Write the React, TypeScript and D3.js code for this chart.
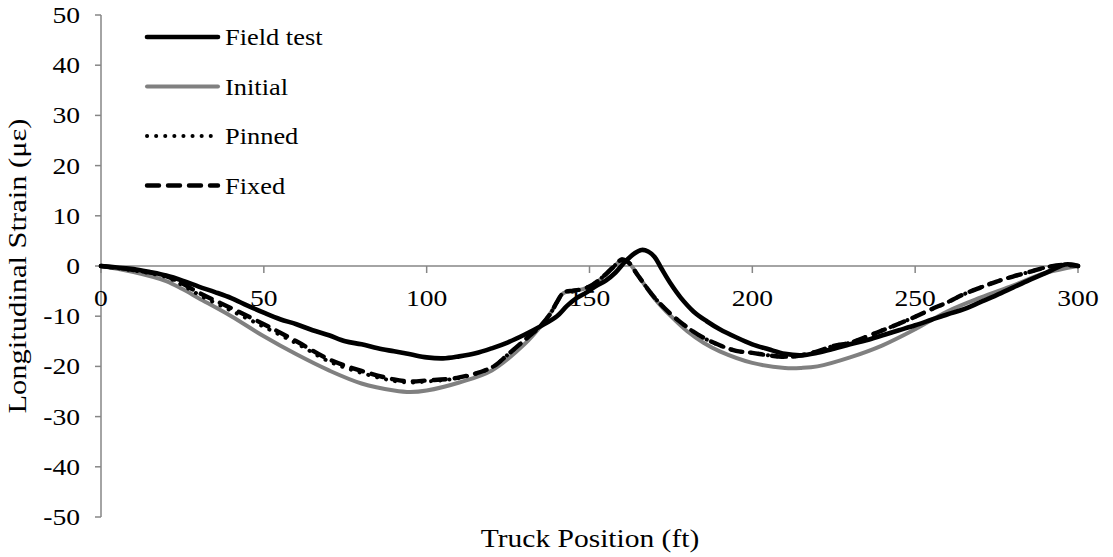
import React from "react";
import * as d3 from "d3";

// Truck position (ft) and longitudinal strain (µε) for each series
const fieldX = [0, 5, 10, 15, 20, 25, 30, 35, 40, 45, 50, 55, 60, 65, 70, 75, 80, 85, 90, 95, 100, 105, 110, 115, 120, 125, 130, 135, 140, 143, 146, 149, 152, 155, 158, 161, 164, 166, 168, 170, 172, 175, 178, 182, 186, 190, 195, 200, 205, 210, 215, 220, 225, 230, 235, 240, 245, 250, 255, 260, 265, 270, 275, 280, 285, 290, 293, 296, 298, 300];
const fieldY = [0, -0.3, -0.6, -1.2, -1.9, -2.9, -4.1, -5.2, -6.4, -7.9, -9.3, -10.6, -11.6, -12.8, -13.8, -15.0, -15.6, -16.4, -17.0, -17.6, -18.2, -18.4, -18.0, -17.4, -16.4, -15.2, -13.7, -12.0, -10.0, -8.0, -6.4, -5.3, -4.0, -2.9, -1.3, 0.9, 2.6, 3.2, 2.9, 1.8, -0.4, -3.6, -6.3, -9.1, -11.0, -12.6, -14.2, -15.6, -16.6, -17.5, -17.8, -17.3, -16.5, -15.6, -14.8, -13.8, -12.8, -11.8, -10.7, -9.6, -8.6, -7.2, -5.8, -4.3, -2.8, -1.4, -0.5, 0.3, 0.3, 0.0];

const initialX = [0, 10, 20, 25, 30, 40, 50, 60, 70, 80, 90, 95, 100, 110, 120, 130, 135, 138, 140, 142, 145, 148, 151, 154, 157, 160, 162, 165, 170, 175, 180, 185, 190, 200, 210, 215, 220, 230, 240, 250, 260, 270, 280, 290, 300];
const initialY = [0, -1.2, -3.0, -4.6, -6.4, -10.0, -14.0, -17.6, -20.8, -23.4, -24.8, -25.1, -24.8, -23.2, -20.8, -15.6, -12.0, -9.4, -7.2, -5.4, -4.9, -4.6, -3.8, -2.3, -0.5, 1.2, 0.7, -2.0, -6.5, -10.0, -13.0, -15.3, -17.0, -19.3, -20.3, -20.3, -20.0, -18.2, -15.8, -12.6, -9.0, -6.3, -3.9, -1.4, 0];

const pinnedX = [0, 10, 20, 25, 30, 40, 50, 60, 70, 80, 90, 95, 100, 110, 120, 125, 130, 135, 138, 140, 142, 145, 148, 151, 154, 157, 160, 162, 165, 170, 175, 180, 185, 190, 195, 200, 205, 210, 215, 220, 225, 230, 235, 240, 245, 250, 255, 260, 265, 270, 275, 280, 285, 290, 295, 300];
const pinnedY = [0, -0.9, -2.2, -3.8, -5.7, -8.9, -12.1, -15.4, -19.0, -21.3, -22.9, -23.2, -23.0, -22.3, -20.2, -17.6, -14.8, -11.9, -9.5, -7.2, -5.3, -4.9, -4.6, -3.7, -2.2, -0.4, 1.3, 0.7, -2.0, -6.3, -9.6, -12.2, -14.3, -15.8, -16.9, -17.3, -17.8, -18.1, -17.8, -17.0, -15.9, -15.3, -14.1, -12.8, -11.5, -10.1, -8.6, -7.2, -5.6, -4.3, -3.1, -2.1, -1.2, -0.3, 0.2, 0];

const fixedX = [0, 10, 20, 25, 30, 40, 50, 60, 70, 80, 90, 95, 100, 110, 120, 125, 130, 135, 138, 140, 142, 145, 148, 151, 154, 157, 160, 162, 165, 170, 175, 180, 185, 190, 195, 200, 205, 210, 215, 220, 225, 230, 235, 240, 245, 250, 255, 260, 265, 270, 275, 280, 285, 290, 295, 300];
const fixedY = [0, -0.8, -2.0, -3.5, -5.3, -8.4, -11.6, -15.0, -18.6, -20.9, -22.6, -23.0, -22.8, -22.2, -20.2, -17.6, -14.8, -11.9, -9.5, -7.2, -5.3, -4.9, -4.6, -3.7, -2.2, -0.4, 1.3, 0.7, -2.0, -6.3, -9.6, -12.2, -14.3, -15.8, -16.9, -17.3, -17.8, -18.1, -17.8, -17.0, -15.9, -15.3, -14.1, -12.8, -11.5, -10.1, -8.6, -7.2, -5.6, -4.3, -3.1, -2.1, -1.2, -0.3, 0.2, 0];

const xTicks = [0, 50, 100, 150, 200, 250, 300];
const yTicks = [-50, -40, -30, -20, -10, 0, 10, 20, 30, 40, 50];

const legendLabels = ["Field test", "Initial", "Pinned", "Fixed"];

const W = 1113;
const H = 557;
const FONT = "Liberation Serif";
const AXIS = "#868686";

type Pt = [number, number];

const zip = (xs: number[], ys: number[]): Pt[] => xs.map((x, i) => [x, ys[i]]);

// text drawn slightly wide, as the chart's typeface is set
function WideText(props: {
  x: number;
  y: number;
  size: number;
  sx: number;
  anchor?: "start" | "middle" | "end";
  rotate?: number;
  children: React.ReactNode;
}) {
  const { x, y, size, sx, anchor = "start", rotate = 0, children } = props;
  return (
    <text
      transform={`translate(${x},${y}) rotate(${rotate}) scale(${sx},1)`}
      textAnchor={anchor}
      fontFamily={FONT}
      fontSize={size}
      fill="#000"
    >
      {children}
    </text>
  );
}

export default function App() {
  const x = d3.scaleLinear().domain([0, 300]).range([101, 1078]);
  const y = d3.scaleLinear().domain([-50, 50]).range([517, 15]);

  const smooth = d3
    .line<Pt>()
    .x((d) => x(d[0]))
    .y((d) => y(d[1]))
    .curve(d3.curveCatmullRom.alpha(0.5));

  const series = [
    { name: legendLabels[0], data: zip(fieldX, fieldY), stroke: "#000", width: 4.6, dash: undefined as string | undefined },
    { name: legendLabels[1], data: zip(initialX, initialY), stroke: "#808080", width: 4, dash: undefined },
    { name: legendLabels[2], data: zip(pinnedX, pinnedY), stroke: "#000", width: 4, dash: "0.1 9" },
    { name: legendLabels[3], data: zip(fixedX, fixedY), stroke: "#000", width: 4.4, dash: "12 9" },
  ];

  // models first, field measurements on top
  const drawOrder = [1, 2, 3, 0];

  const legendY = [37, 86.5, 136, 185.5];

  return (
    <svg width={W} height={H} style={{ position: "absolute", left: 0, top: 0, background: "#fff" }}>
      <rect width={W} height={H} fill="#fff" />

      {/* y axis */}
      <line x1={x(0)} x2={x(0)} y1={y(50)} y2={y(-50)} stroke={AXIS} strokeWidth={1.5} />
      {yTicks.map((t) => (
        <g key={"yt" + t}>
          <line x1={x(0) - 6} x2={x(0)} y1={y(t)} y2={y(t)} stroke={AXIS} strokeWidth={1.5} />
          <WideText x={80} y={y(t) + 8} size={24} sx={1.15} anchor="end">
            {t}
          </WideText>
        </g>
      ))}

      {/* x axis along zero strain */}
      <line x1={x(0)} x2={x(300)} y1={y(0)} y2={y(0)} stroke={AXIS} strokeWidth={1.5} />
      {xTicks.map((t) => (
        <g key={"xt" + t}>
          <line x1={x(t)} x2={x(t)} y1={y(0)} y2={y(0) + 7} stroke={AXIS} strokeWidth={1.5} />
          <WideText x={x(t)} y={306} size={24} sx={1.15} anchor="middle">
            {t}
          </WideText>
        </g>
      ))}

      {/* series */}
      {drawOrder.map((i) => {
        const s = series[i];
        return (
          <path
            key={s.name}
            d={smooth(s.data) || ""}
            fill="none"
            stroke={s.stroke}
            strokeWidth={s.width}
            strokeDasharray={s.dash}
            strokeLinecap="round"
            strokeLinejoin="round"
          />
        );
      })}

      {/* legend */}
      {series.map((s, i) => (
        <g key={"lg" + s.name}>
          <line
            x1={147}
            x2={218}
            y1={legendY[i]}
            y2={legendY[i]}
            stroke={s.stroke}
            strokeWidth={s.width}
            strokeDasharray={s.dash}
            strokeLinecap="round"
          />
          <WideText x={225} y={legendY[i] + 8} size={24} sx={1.1}>
            {s.name}
          </WideText>
        </g>
      ))}

      {/* axis titles */}
      <WideText x={590} y={547} size={25} sx={1.18} anchor="middle">
        Truck Position (ft)
      </WideText>
      <WideText x={26} y={y(0)} size={25} sx={1.22} anchor="middle" rotate={-90}>
        Longitudinal Strain (με)
      </WideText>
    </svg>
  );
}
